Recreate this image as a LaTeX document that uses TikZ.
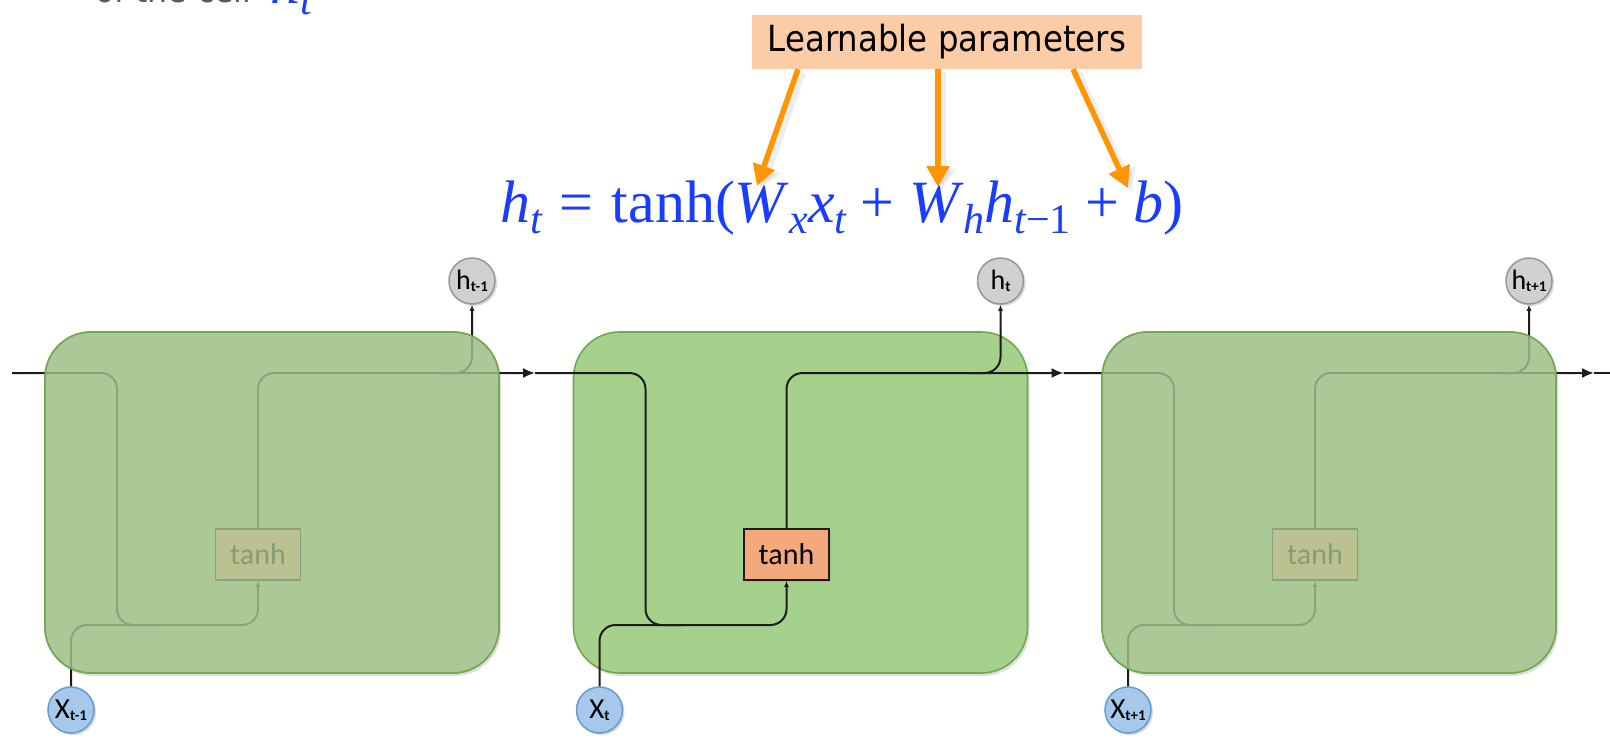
\documentclass[tikz,border=0pt]{standalone}
\usepackage{fontspec}
\setmainfont{Liberation Serif}
\newfontfamily\lblfont[FakeStretch=0.9]{DejaVu Sans}
\newfontfamily\boxfont{Carlito}
\newfontfamily\eqfont{Liberation Serif}
\usetikzlibrary{arrows.meta,shadows}

\definecolor{cellfill}{RGB}{166,209,140}
\definecolor{celldraw}{RGB}{112,168,82}
\definecolor{fadefill}{RGB}{171,201,151}
\definecolor{fadedraw}{RGB}{118,166,90}
\definecolor{tanhfill}{RGB}{244,169,124}
\definecolor{hfill}{RGB}{208,208,208}
\definecolor{hdraw}{RGB}{150,150,150}
\definecolor{xfill}{RGB}{166,200,235}
\definecolor{xdraw}{RGB}{100,155,210}
\definecolor{eqblue}{RGB}{25,60,255}
\definecolor{peach}{RGB}{251,204,165}
\definecolor{arrorange}{RGB}{255,150,0}
\definecolor{wirecol}{RGB}{28,28,28}
\definecolor{topgray}{RGB}{90,90,90}

% subscripts in the equation and in the circles
\newcommand\esub[1]{\raisebox{-11pt}{\fontsize{42}{42}\selectfont\itshape #1}}
\newcommand\csub[1]{\raisebox{-2pt}{\fontsize{15}{15}\selectfont\bfseries #1}}

\begin{document}
\begin{tikzpicture}[x=1pt,y=-1pt,
  wire/.style={draw=wirecol, line width=2pt, rounded corners=16pt},
  bigtip/.style={-{Latex[length=12pt,width=10pt]}},
  smalltip/.style={-{Latex[length=6pt,width=5pt]}},
  cellbox/.style={draw=celldraw, line width=1.6pt, fill=cellfill, rounded corners=46pt,
    minimum width=454pt, minimum height=341pt, inner sep=0pt,
    drop shadow={shadow xshift=2pt, shadow yshift=-3pt, opacity=0.25}},
  fadecell/.style={cellbox, fill=fadefill, draw=fadedraw},
  veil/.style={draw=fadedraw, line width=1.6pt, fill=fadefill, fill opacity=0.78,
    rounded corners=46pt, minimum width=454pt, minimum height=341pt, inner sep=0pt},
  tanhbox/.style={draw=wirecol, line width=1.6pt, fill=tanhfill, minimum width=85pt,
    minimum height=51pt, inner sep=0pt, font=\boxfont\fontsize{30}{30}\selectfont,
    drop shadow={shadow xshift=2pt, shadow yshift=-2pt, opacity=0.2}},
  hcirc/.style={circle, draw=hdraw, line width=1.5pt, fill=hfill, minimum size=46pt,
    inner sep=0pt, font=\boxfont\fontsize{28}{28}\selectfont,
    drop shadow={shadow xshift=2pt, shadow yshift=-2pt, opacity=0.3}},
  xcirc/.style={hcirc, draw=xdraw, fill=xfill, font=\boxfont\fontsize{29}{29}\selectfont},
  parrow/.style={draw=arrorange, line width=5.5pt, -{Triangle[length=21pt,width=22pt]}},
  pshade/.style={draw=black, opacity=0.07, line width=8pt, -{Triangle[length=21pt,width=25pt]}},
  eqtext/.style={anchor=base west, inner sep=0pt, text=eqblue, font=\eqfont\fontsize{60}{62}\selectfont}
]
\useasboundingbox (0,0) rectangle (1610,747);
\clip (0,0) rectangle (1610,747);

% heading line running off the top edge
\node[anchor=base west, inner sep=0pt, text=topgray, font=\lblfont\fontsize{35}{40}\selectfont]
  (caption) at (95,2) {of the cell};
\node[eqtext] (captionvar) at (270,3) {\textit{h}\esub{t}};

% the three unrolled cells
\node[fadecell] (cell1) at (272,502.5) {};
\node[cellbox]  (cell2) at (800.5,502.5) {};
\node[fadecell] (cell3) at (1329,502.5) {};

% outputs and inputs
\node[hcirc] (h1) at (472,281) {h\csub{t-1}};
\node[hcirc] (h2) at (1000.5,281) {h\csub{t}};
\node[hcirc] (h3) at (1529,281) {h\csub{t+1}};
\node[xcirc] (x1) at (71,710) {X\csub{t-1}};
\node[xcirc] (x2) at (599.5,710) {X\csub{t}};
\node[xcirc] (x3) at (1128,710) {X\csub{t+1}};

% activation blocks
\node[tanhbox] (tanh1) at (258,554.5) {tanh};
\node[tanhbox] (tanh2) at (786.5,554.5) {tanh};
\node[tanhbox] (tanh3) at (1315,554.5) {tanh};

% hidden-state line ends
\coordinate (start) at (12,373);
\coordinate (out1) at (535,373);
\coordinate (out2) at (1063.5,373);
\coordinate (out3) at (1594,373);
\coordinate (finish) at (1610,373);

% wiring inside each cell
\foreach \i/\cx/\prev in {1/45/start,2/573.5/out1,3/1102/out2}{
  \draw[wire, smalltip] (\prev) -- ({\cx+72},373) -- ({\cx+72},625) -- ({\cx+213},625) -- (tanh\i.south);
  \draw[wire] (x\i.north) -- ({\cx+26},625) -- ({\cx+110},625);
  \draw[wire, bigtip] (tanh\i.north) -- ({\cx+213},373) -- (out\i);
  \draw[wire, smalltip] ({\cx+395},373) -- ({\cx+427},373) -- (h\i.south);
}
\draw[wire] (out3) -- (finish);

% neighbouring time steps are greyed out
\node[veil] (veil1) at (cell1) {};
\node[veil] (veil3) at (cell3) {};

% recurrence formula
\node[eqtext] (eq) at (500,222) {%
  \textit{h}\esub{t}\hspace{0.3em}=\hspace{0.3em}tanh(\textit{W}\esub{x}\textit{x}\esub{t}%
  \hspace{0.24em}+\hspace{0.24em}\textit{W}\esub{h}\textit{h}\esub{t\upshape−1}%
  \hspace{0.24em}+\hspace{0.24em}\textit{b})};

% parameter callout
\node[fill=peach, minimum width=390pt, minimum height=54pt, inner sep=0pt,
  font=\lblfont\fontsize{36}{40}\selectfont] (lp) at (947,42) {Learnable parameters};

\coordinate (tip1) at (757,186);
\coordinate (tip2) at (938,187);
\coordinate (tip3) at (1128,188);
\draw[pshade] ([xshift=-145pt,yshift=-3pt]lp.south) -- ([xshift=4pt,yshift=-3pt]tip1);
\draw[pshade] ([xshift=-5pt,yshift=-3pt]lp.south) -- ([xshift=4pt,yshift=-3pt]tip2);
\draw[pshade] ([xshift=130pt,yshift=-3pt]lp.south) -- ([xshift=4pt,yshift=-3pt]tip3);
\draw[parrow] ([xshift=-149pt]lp.south) -- (tip1);
\draw[parrow] ([xshift=-9pt]lp.south) -- (tip2);
\draw[parrow] ([xshift=126pt]lp.south) -- (tip3);
\end{tikzpicture}
\end{document}
